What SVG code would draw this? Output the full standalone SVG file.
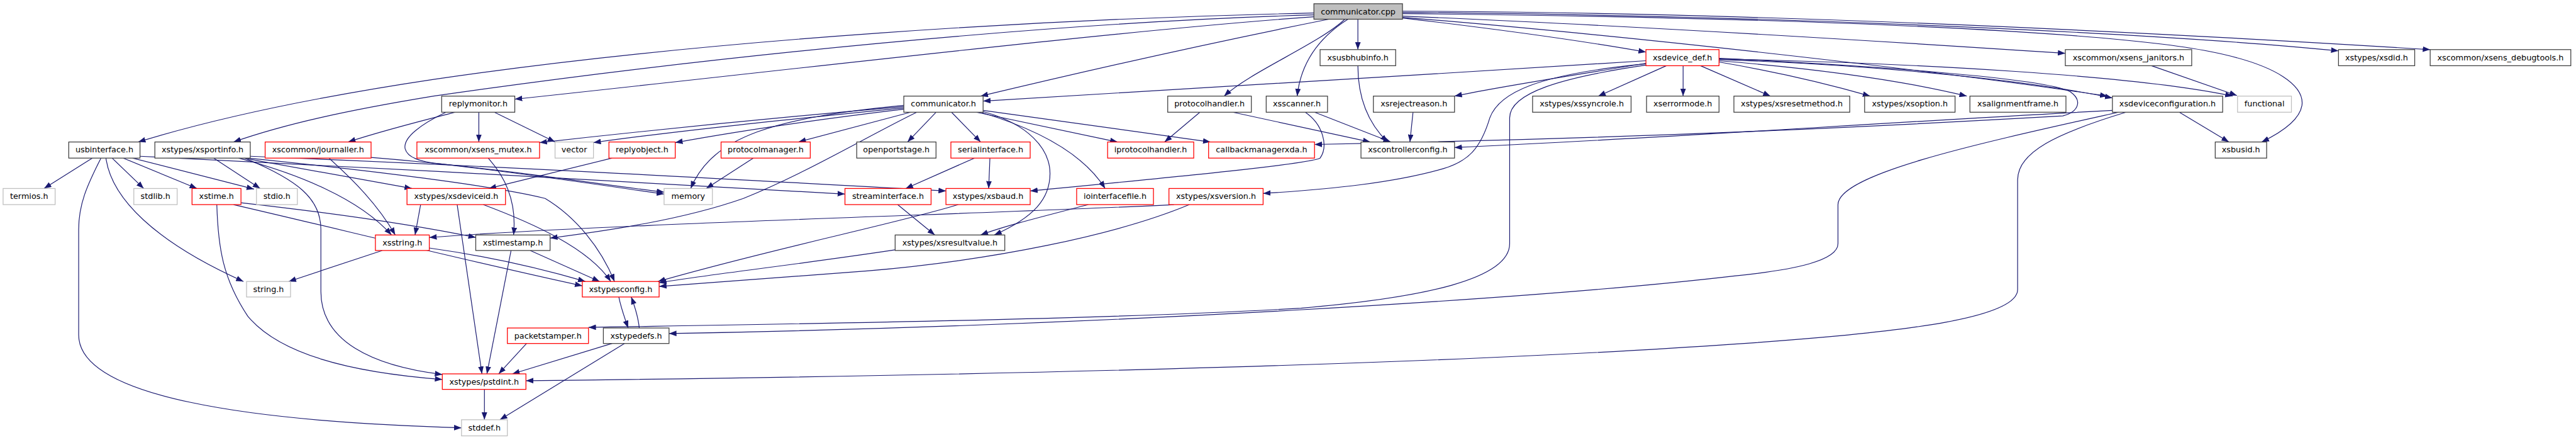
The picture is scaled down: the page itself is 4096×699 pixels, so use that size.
<svg xmlns="http://www.w3.org/2000/svg" width="4096" height="699" viewBox="0 0 4096 699">
<defs>
<style>
.n rect{fill:#fff;stroke:#404040;stroke-width:1.3}
.n.r rect{stroke:#ff0000}
.n.g rect{stroke:#bfbfbf}
.n.c rect{fill:#bfbfbf}
.n text{font-family:"DejaVu Sans","Liberation Sans",sans-serif;font-size:13px;text-anchor:middle;fill:#000}
#edges path{fill:none;stroke:#191970;stroke-width:1.2;marker-end:url(#a)}
</style>
<marker id="a" markerUnits="userSpaceOnUse" markerWidth="12" markerHeight="9" refX="12" refY="4.5" orient="auto"><path d="M0,0 L12,4.5 L0,9 z" fill="#191970"/></marker>
</defs>
<rect width="4096" height="699" fill="#fff"/>
<g transform="scale(0.985)">
<g id="edges">
<path d="M2121,21 C1700,30 1150,62 700,128 C520,155 350,190 223,229"/>
<path d="M2121,24 C1700,36 1150,90 700,155 C560,178 460,200 377,229"/>
<path d="M2121,27 C1800,50 1300,110 831,160"/>
<path d="M2145,31 C1950,70 1750,115 1583,155"/>
<path d="M2171,31 C2130,70 2020,115 1976,155"/>
<path d="M2176,31 C2130,60 2100,100 2094,155"/>
<path d="M2192,31 L2192,80"/>
<path d="M2264,29 C2400,45 2550,65 2657,84"/>
<path d="M2264,26 C2600,40 3000,64 3334,86"/>
<path d="M2264,20 C2900,25 3500,55 3775,82"/>
<path d="M2264,18 C2900,20 3600,60 3923,80"/>
<path d="M2264,22 C2900,28 3400,50 3567,83 C3680,105 3720,140 3716,170 C3712,195 3680,215 3651,229"/>
<path d="M2264,28 C2600,55 3100,110 3402,155"/>
<path d="M2657,98 C2300,120 1900,145 1587,163"/>
<path d="M2657,102 C2550,120 2430,138 2348,155"/>
<path d="M2690,106 L2580,155"/>
<path d="M2717,106 L2717,155"/>
<path d="M2745,106 L2858,155"/>
<path d="M2775,100 C2880,118 2960,138 3019,155"/>
<path d="M2775,98 C2950,112 3080,132 3175,155"/>
<path d="M2775,96 C3000,104 3250,125 3410,158"/>
<path d="M2775,95 C3100,102 3450,122 3604,155"/>
<path d="M2775,94 C3000,105 3300,125 3342,148 C3362,162 3356,180 3330,187 C3100,200 2700,222 2122,233"/>
<path d="M2657,103 C2480,120 2420,150 2405,190 C2390,240 2370,260 2330,272 C2250,295 2150,305 2039,312"/>
<path d="M2657,105 C2520,125 2437,150 2437,190 L2437,393 C2437,450 2300,480 2100,497 C1800,515 1300,522 950,528"/>
<path d="M3420,181 C3200,230 2967,280 2967,330 L2967,393 C2967,420 2900,435 2800,445 C2500,480 1800,525 1080,538"/>
<path d="M3432,181 C3320,215 3257,245 3257,290 L3257,467 C3257,510 3100,535 2800,555 C2300,590 1500,607 849,614"/>
<path d="M3518,181 L3598,229"/>
<path d="M3410,178 C3000,200 2700,222 2348,238"/>
<path d="M3473,106 L3611,154"/>
<path d="M735,181 C680,195 620,210 562,229"/>
<path d="M773,181 L773,229"/>
<path d="M798,181 L896,229"/>
<path d="M720,181 C680,200 650,222 654,240 C658,255 680,260 700,263 C850,280 980,300 1072,313"/>
<path d="M1511,181 L1465,229"/>
<path d="M1536,181 L1583,229"/>
<path d="M1576,181 L1804,229"/>
<path d="M1587,178 L1954,229"/>
<path d="M1587,180 C1660,200 1695,240 1695,280 C1695,320 1670,350 1605,379"/>
<path d="M1583,181 C1680,210 1750,250 1784,304"/>
<path d="M1459,172 C1250,190 1050,210 871,230"/>
<path d="M1459,174 C1300,190 1100,210 958,230"/>
<path d="M1459,176 C1300,195 1200,210 1090,230"/>
<path d="M1470,181 L1289,229"/>
<path d="M1459,170 C1250,190 1150,220 1115,304"/>
<path d="M1480,181 C1400,220 1300,280 1200,320 C1100,355 980,372 888,384"/>
<path d="M1937,181 L1880,229"/>
<path d="M1990,181 L2212,229"/>
<path d="M2122,181 L2245,229"/>
<path d="M2107,181 C2135,200 2145,235 2131,255 C2110,265 1900,285 1663,308"/>
<path d="M2192,106 C2192,160 2210,200 2240,229"/>
<path d="M2281,181 L2276,229"/>
<path d="M149,255 L71,304"/>
<path d="M181,255 L232,304"/>
<path d="M199,255 L318,304"/>
<path d="M214,255 L410,305"/>
<path d="M171,255 C180,320 250,390 393,454"/>
<path d="M163,255 C140,300 127,330 127,370 L127,540 C127,640 400,680 745,690"/>
<path d="M226,252 C600,270 1000,292 1364,313"/>
<path d="M345,255 L420,304"/>
<path d="M393,255 L665,304"/>
<path d="M395,255 C480,290 518,320 518,370 L518,470 C518,550 600,590 714,604"/>
<path d="M385,255 C480,280 580,320 632,379"/>
<path d="M404,252 C800,268 1200,290 1527,308"/>
<path d="M400,255 C600,275 800,300 880,320 C930,350 970,400 992,454"/>
<path d="M531,255 C570,290 610,330 638,379"/>
<path d="M599,254 C800,270 950,295 1072,310"/>
<path d="M788,255 C820,290 834,330 829,379"/>
<path d="M1573,255 L1462,304"/>
<path d="M1598,255 L1596,304"/>
<path d="M988,255 L789,304"/>
<path d="M1216,255 L1140,304"/>
<path d="M350,330 C352,400 360,450 400,510 C450,570 560,600 714,612"/>
<path d="M377,330 C550,370 750,420 940,461"/>
<path d="M389,327 C550,345 680,365 768,383"/>
<path d="M679,330 L670,379"/>
<path d="M738,330 L778,603"/>
<path d="M780,330 C860,360 950,400 986,454"/>
<path d="M1449,330 L1509,379"/>
<path d="M1547,330 C1450,360 1250,400 1062,454"/>
<path d="M1757,330 C1680,350 1620,365 1583,379"/>
<path d="M1895,330 C1600,345 1000,360 693,383"/>
<path d="M1920,330 C1800,380 1600,420 1400,437 C1250,448 1150,455 1064,462"/>
<path d="M617,404 L466,454"/>
<path d="M693,400 C800,415 880,435 945,454"/>
<path d="M825,404 L786,603"/>
<path d="M856,404 L968,454"/>
<path d="M999,479 C1002,495 1008,512 1014,529"/>
<path d="M1032,529 C1030,510 1025,495 1019,479"/>
<path d="M850,554 L805,603"/>
<path d="M988,554 L827,603"/>
<path d="M1008,554 L807,677"/>
<path d="M782,628 L782,677"/>
<path d="M1445,403 C1300,425 1150,442 1064,456"/>
</g>
<g id="n_cpp" class="n c"><rect x="2121" y="6" width="143" height="25"/><text x="2192.5" y="23">communicator.cpp</text></g>
<g id="n_usbhub" class="n"><rect x="2131" y="80" width="122" height="26"/><text x="2192" y="97">xsusbhubinfo.h</text></g>
<g id="n_devdef" class="n r"><rect x="2657" y="80" width="118" height="26"/><text x="2716" y="97">xsdevice_def.h</text></g>
<g id="n_janitors" class="n"><rect x="3334" y="80" width="204" height="26"/><text x="3436" y="97">xscommon/xsens_janitors.h</text></g>
<g id="n_xsdid" class="n"><rect x="3775" y="80" width="123" height="26"/><text x="3836.5" y="97">xstypes/xsdid.h</text></g>
<g id="n_debug" class="n"><rect x="3923" y="80" width="227" height="26"/><text x="4036.5" y="97">xscommon/xsens_debugtools.h</text></g>
<g id="n_replymon" class="n"><rect x="713" y="155" width="118" height="26"/><text x="772" y="172">replymonitor.h</text></g>
<g id="n_commh" class="n"><rect x="1459" y="155" width="128" height="26"/><text x="1523" y="172">communicator.h</text></g>
<g id="n_protoh" class="n"><rect x="1885" y="155" width="135" height="26"/><text x="1952.5" y="172">protocolhandler.h</text></g>
<g id="n_scanner" class="n"><rect x="2044" y="155" width="99" height="26"/><text x="2093.5" y="172">xsscanner.h</text></g>
<g id="n_reject" class="n"><rect x="2217" y="155" width="131" height="26"/><text x="2282.5" y="172">xsrejectreason.h</text></g>
<g id="n_syncrole" class="n"><rect x="2474" y="155" width="159" height="26"/><text x="2553.5" y="172">xstypes/xssyncrole.h</text></g>
<g id="n_errmode" class="n"><rect x="2658" y="155" width="117" height="26"/><text x="2716.5" y="172">xserrormode.h</text></g>
<g id="n_resetm" class="n"><rect x="2799" y="155" width="187" height="26"/><text x="2892.5" y="172">xstypes/xsresetmethod.h</text></g>
<g id="n_option" class="n"><rect x="3010" y="155" width="146" height="26"/><text x="3083" y="172">xstypes/xsoption.h</text></g>
<g id="n_align" class="n"><rect x="3180" y="155" width="155" height="26"/><text x="3257.5" y="172">xsalignmentframe.h</text></g>
<g id="n_devconf" class="n"><rect x="3410" y="155" width="178" height="26"/><text x="3499" y="172">xsdeviceconfiguration.h</text></g>
<g id="n_functional" class="n g"><rect x="3612" y="155" width="87" height="26"/><text x="3655.5" y="172">functional</text></g>
<g id="n_usbif" class="n"><rect x="111" y="229" width="115" height="26"/><text x="168.5" y="246">usbinterface.h</text></g>
<g id="n_portinfo" class="n"><rect x="250" y="229" width="154" height="26"/><text x="327" y="246">xstypes/xsportinfo.h</text></g>
<g id="n_journ" class="n r"><rect x="428" y="229" width="171" height="26"/><text x="513.5" y="246">xscommon/journaller.h</text></g>
<g id="n_mutex" class="n r"><rect x="673" y="229" width="198" height="26"/><text x="772" y="246">xscommon/xsens_mutex.h</text></g>
<g id="n_vector" class="n g"><rect x="896" y="229" width="62" height="26"/><text x="927" y="246">vector</text></g>
<g id="n_replyobj" class="n r"><rect x="983" y="229" width="107" height="26"/><text x="1036.5" y="246">replyobject.h</text></g>
<g id="n_protoman" class="n r"><rect x="1164" y="229" width="144" height="26"/><text x="1236" y="246">protocolmanager.h</text></g>
<g id="n_openport" class="n"><rect x="1383" y="229" width="128" height="26"/><text x="1447" y="246">openportstage.h</text></g>
<g id="n_serial" class="n r"><rect x="1535" y="229" width="128" height="26"/><text x="1599" y="246">serialinterface.h</text></g>
<g id="n_iproto" class="n r"><rect x="1788" y="229" width="139" height="26"/><text x="1857.5" y="246">iprotocolhandler.h</text></g>
<g id="n_cbm" class="n r"><rect x="1951" y="229" width="171" height="26"/><text x="2036.5" y="246">callbackmanagerxda.h</text></g>
<g id="n_ctrlcfg" class="n"><rect x="2197" y="229" width="151" height="26"/><text x="2272.5" y="246">xscontrollerconfig.h</text></g>
<g id="n_busid" class="n"><rect x="3576" y="229" width="83" height="26"/><text x="3617.5" y="246">xsbusid.h</text></g>
<g id="n_termios" class="n g"><rect x="5" y="304" width="84" height="26"/><text x="47" y="321">termios.h</text></g>
<g id="n_stdlib" class="n g"><rect x="216" y="304" width="70" height="26"/><text x="251" y="321">stdlib.h</text></g>
<g id="n_xstime" class="n r"><rect x="310" y="304" width="79" height="26"/><text x="349.5" y="321">xstime.h</text></g>
<g id="n_stdio" class="n g"><rect x="414" y="304" width="66" height="26"/><text x="447" y="321">stdio.h</text></g>
<g id="n_devid" class="n r"><rect x="657" y="304" width="159" height="26"/><text x="736.5" y="321">xstypes/xsdeviceid.h</text></g>
<g id="n_memory" class="n g"><rect x="1072" y="304" width="78" height="26"/><text x="1111" y="321">memory</text></g>
<g id="n_stream" class="n r"><rect x="1364" y="304" width="139" height="26"/><text x="1433.5" y="321">streaminterface.h</text></g>
<g id="n_baud" class="n r"><rect x="1527" y="304" width="136" height="26"/><text x="1595" y="321">xstypes/xsbaud.h</text></g>
<g id="n_ioif" class="n r"><rect x="1738" y="304" width="124" height="26"/><text x="1800" y="321">iointerfacefile.h</text></g>
<g id="n_version" class="n r"><rect x="1887" y="304" width="152" height="26"/><text x="1963" y="321">xstypes/xsversion.h</text></g>
<g id="n_xsstring" class="n r"><rect x="606" y="379" width="87" height="25"/><text x="649.5" y="396">xsstring.h</text></g>
<g id="n_timestamp" class="n"><rect x="768" y="379" width="120" height="25"/><text x="828" y="396">xstimestamp.h</text></g>
<g id="n_resultval" class="n"><rect x="1445" y="379" width="177" height="25"/><text x="1533.5" y="396">xstypes/xsresultvalue.h</text></g>
<g id="n_string" class="n g"><rect x="398" y="454" width="71" height="25"/><text x="433.5" y="471">string.h</text></g>
<g id="n_typescfg" class="n r"><rect x="940" y="454" width="124" height="25"/><text x="1002" y="471">xstypesconfig.h</text></g>
<g id="n_pstamper" class="n r"><rect x="819" y="529" width="131" height="25"/><text x="884.5" y="546">packetstamper.h</text></g>
<g id="n_typedefs" class="n"><rect x="974" y="529" width="106" height="25"/><text x="1027" y="546">xstypedefs.h</text></g>
<g id="n_pstdint" class="n r"><rect x="714" y="603" width="135" height="25"/><text x="781.5" y="620">xstypes/pstdint.h</text></g>
<g id="n_stddef" class="n g"><rect x="745" y="677" width="74" height="26"/><text x="782" y="694">stddef.h</text></g>
</g>
</svg>
